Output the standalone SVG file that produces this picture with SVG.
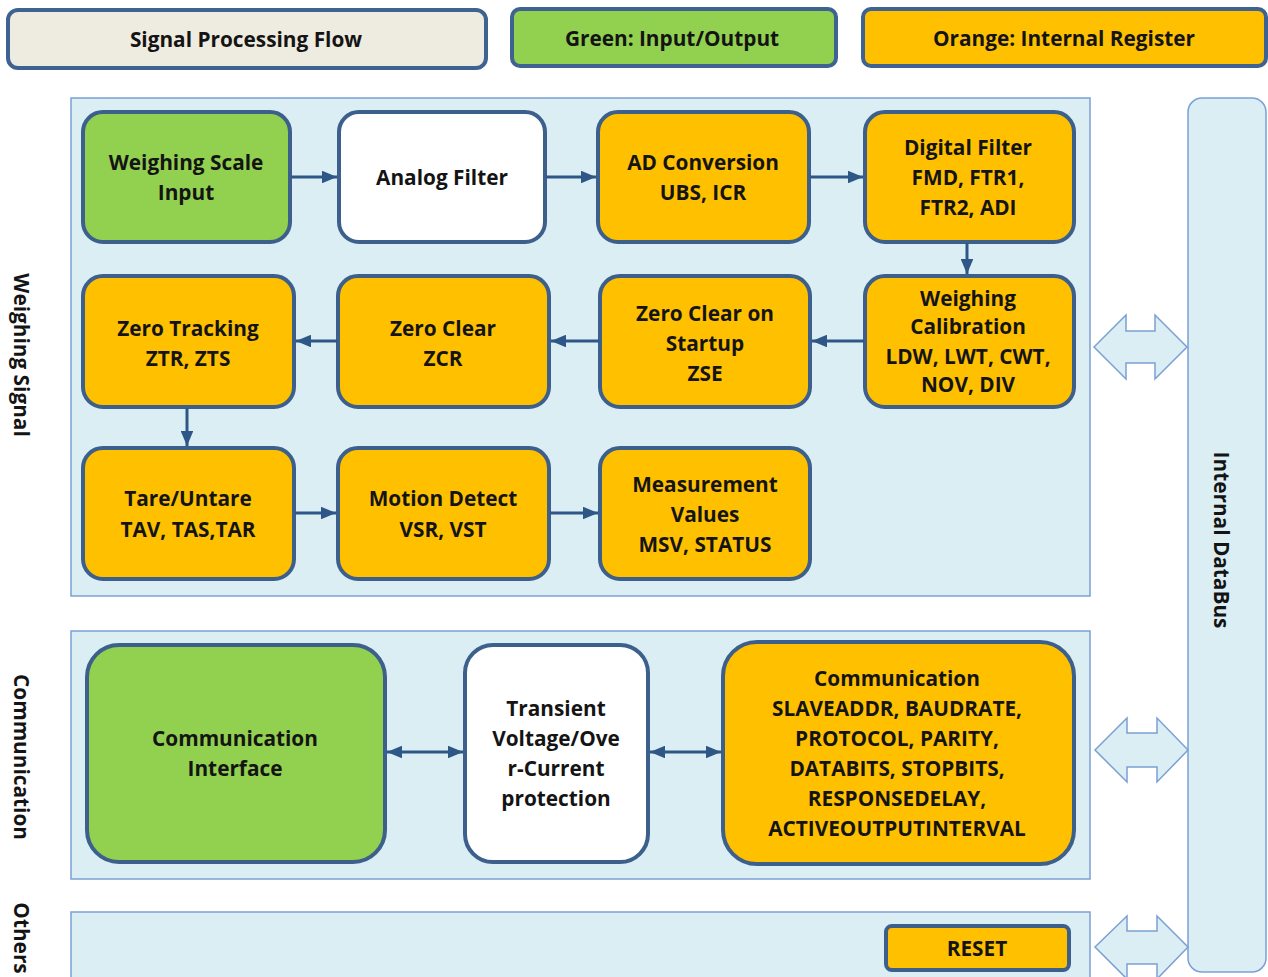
<svg xmlns="http://www.w3.org/2000/svg" width="1268" height="977" viewBox="0 0 1268 977">
<defs>
<style>
.t{font-family:"Open Sans","Liberation Sans",sans-serif;font-weight:bold;font-size:20.8px;fill:#141414;text-anchor:middle;dominant-baseline:central}
.leg{stroke:#3e6291;stroke-width:4}
.panel{fill:#dbeef4;stroke:#7ba0d4;stroke-width:1.5}
.n{stroke:#3c5f8c;stroke-width:4}
.g{fill:#92d050}
.o{fill:#ffc000}
.w{fill:#ffffff}
.c{stroke:#2e5788;stroke-width:3;fill:none}
.ba{fill:#dbeef4;stroke:#7ba0d4;stroke-width:1.5}
</style>
<marker id="ah" viewBox="0 0 10 10" refX="10" refY="5" markerWidth="5" markerHeight="4.2" orient="auto-start-reverse" markerUnits="strokeWidth" preserveAspectRatio="none">
<path d="M0,0 L10,5 L0,10 z" fill="#2e5788"/>
</marker>
</defs>
<rect width="1268" height="977" fill="#ffffff"/>

<g id="legend">
<g id="legend-flow"><rect class="leg" x="8" y="10" width="478" height="58" rx="10" fill="#eeebe0"/><text class="t" x="246" y="39">Signal Processing Flow</text></g>
<g id="legend-green"><rect class="leg" x="512" y="9" width="324" height="57" rx="8" fill="#92d050"/><text class="t" x="672" y="38">Green: Input/Output</text></g>
<g id="legend-orange"><rect class="leg" x="863" y="9" width="403" height="57" rx="8" fill="#ffc000"/><text class="t" x="1064" y="38">Orange: Internal Register</text></g>
</g>

<g id="panels">
<rect class="panel" x="71" y="98" width="1019" height="498"/>
<rect class="panel" x="71" y="631" width="1019" height="248"/>
<rect class="panel" x="71" y="912" width="1019" height="80"/>
</g>

<g id="databus">
<rect class="panel" x="1188" y="98" width="78" height="874" rx="14"/>
<text class="t" transform="translate(1222,540) rotate(90)">Internal DataBus</text>
</g>

<g id="side-labels">
<text class="t" transform="translate(22,355) rotate(90)">Weighing Signal</text>
<text class="t" transform="translate(22,757) rotate(90)">Communication</text>
<text class="t" transform="translate(22,938) rotate(90)">Others</text>
</g>

<g id="bus-arrows">
<path class="ba" d="M1094,347 L1126,315 L1126,331 L1155,331 L1155,315 L1187,347 L1155,379 L1155,363 L1126,363 L1126,379 Z"/>
<path class="ba" d="M1095,750 L1127,718 L1127,733 L1157,733 L1157,718 L1188,750 L1157,782 L1157,767 L1127,767 L1127,782 Z"/>
<path class="ba" d="M1095,947 L1127,916 L1127,931 L1157,931 L1157,916 L1188,947 L1157,979 L1157,964 L1127,964 L1127,979 Z"/>
</g>

<g id="n-input"><rect class="n g" x="83" y="112" width="207" height="130" rx="20"/><text class="t" x="186" y="162">Weighing Scale</text><text class="t" x="186" y="192">Input</text></g>
<g id="n-analog"><rect class="n w" x="339" y="112" width="206" height="130" rx="20"/><text class="t" x="442" y="177">Analog Filter</text></g>
<g id="n-ad"><rect class="n o" x="598" y="112" width="211" height="130" rx="20"/><text class="t" x="703" y="162">AD Conversion</text><text class="t" x="703" y="192">UBS, ICR</text></g>
<g id="n-digital"><rect class="n o" x="865" y="112" width="209" height="130" rx="20"/><text class="t" x="968" y="147">Digital Filter</text><text class="t" x="968" y="177">FMD, FTR1,</text><text class="t" x="968" y="207">FTR2, ADI</text></g>

<g id="n-ztrack"><rect class="n o" x="83" y="276" width="211" height="131" rx="20"/><text class="t" x="188" y="328">Zero Tracking</text><text class="t" x="188" y="358">ZTR, ZTS</text></g>
<g id="n-zclear"><rect class="n o" x="338" y="276" width="211" height="131" rx="20"/><text class="t" x="443" y="328">Zero Clear</text><text class="t" x="443" y="358">ZCR</text></g>
<g id="n-zstart"><rect class="n o" x="600" y="276" width="210" height="131" rx="20"/><text class="t" x="705" y="313">Zero Clear on</text><text class="t" x="705" y="343">Startup</text><text class="t" x="705" y="373">ZSE</text></g>
<g id="n-calib"><rect class="n o" x="865" y="276" width="209" height="131" rx="20"/><text class="t" x="968" y="298">Weighing</text><text class="t" x="968" y="326">Calibration</text><text class="t" x="968" y="356">LDW, LWT, CWT,</text><text class="t" x="968" y="384">NOV, DIV</text></g>

<g id="n-tare"><rect class="n o" x="83" y="448" width="211" height="131" rx="20"/><text class="t" x="188" y="498">Tare/Untare</text><text class="t" x="188" y="529">TAV, TAS,TAR</text></g>
<g id="n-motion"><rect class="n o" x="338" y="448" width="211" height="131" rx="20"/><text class="t" x="443" y="498">Motion Detect</text><text class="t" x="443" y="529">VSR, VST</text></g>
<g id="n-measure"><rect class="n o" x="600" y="448" width="210" height="131" rx="20"/><text class="t" x="705" y="484">Measurement</text><text class="t" x="705" y="514">Values</text><text class="t" x="705" y="544">MSV, STATUS</text></g>

<g id="n-comif"><rect class="n g" x="87" y="645" width="298" height="217" rx="32"/><text class="t" x="235" y="738">Communication</text><text class="t" x="235" y="768">Interface</text></g>
<g id="n-transient"><rect class="n w" x="465" y="645" width="183" height="217" rx="28"/><text class="t" x="556" y="708">Transient</text><text class="t" x="556" y="738">Voltage/Ove</text><text class="t" x="556" y="768">r-Current</text><text class="t" x="556" y="798">protection</text></g>
<g id="n-comm"><rect class="n o" x="723" y="642" width="351" height="222" rx="34"/><text class="t" x="897" y="678">Communication</text><text class="t" x="897" y="708">SLAVEADDR, BAUDRATE,</text><text class="t" x="897" y="738">PROTOCOL, PARITY,</text><text class="t" x="897" y="768">DATABITS, STOPBITS,</text><text class="t" x="897" y="798">RESPONSEDELAY,</text><text class="t" x="897" y="828">ACTIVEOUTPUTINTERVAL</text></g>

<g id="n-reset"><rect class="n o" x="886" y="926" width="183" height="44" rx="6"/><text class="t" x="977" y="948">RESET</text></g>

<g id="connectors">
<line class="c" x1="291" y1="177" x2="337" y2="177" marker-end="url(#ah)"/>
<line class="c" x1="546" y1="177" x2="596" y2="177" marker-end="url(#ah)"/>
<line class="c" x1="810" y1="177" x2="863" y2="177" marker-end="url(#ah)"/>
<line class="c" x1="967" y1="243" x2="967" y2="274" marker-end="url(#ah)"/>
<line class="c" x1="864" y1="341" x2="812" y2="341" marker-end="url(#ah)"/>
<line class="c" x1="599" y1="341" x2="551" y2="341" marker-end="url(#ah)"/>
<line class="c" x1="337" y1="341" x2="296" y2="341" marker-end="url(#ah)"/>
<line class="c" x1="187" y1="408" x2="187" y2="446" marker-end="url(#ah)"/>
<line class="c" x1="295" y1="513" x2="336" y2="513" marker-end="url(#ah)"/>
<line class="c" x1="550" y1="513" x2="598" y2="513" marker-end="url(#ah)"/>
<line class="c" x1="387" y1="752" x2="463" y2="752" marker-start="url(#ah)" marker-end="url(#ah)"/>
<line class="c" x1="650" y1="752" x2="721" y2="752" marker-start="url(#ah)" marker-end="url(#ah)"/>
</g>
</svg>
